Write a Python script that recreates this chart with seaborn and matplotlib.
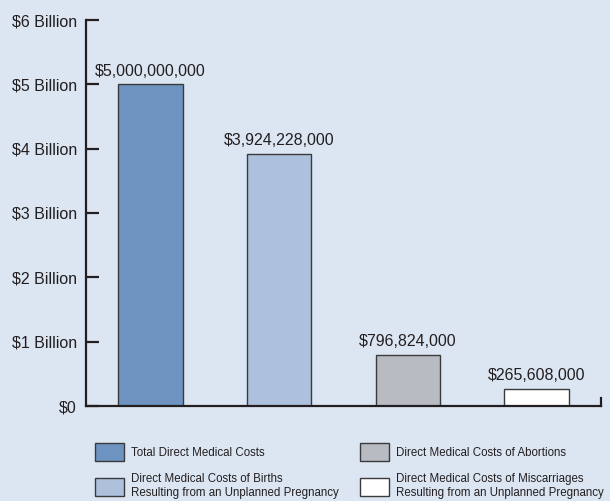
import matplotlib
matplotlib.use("Agg")
import matplotlib.pyplot as plt
import seaborn as sns
import pandas as pd
from matplotlib.patches import Patch
from matplotlib.legend_handler import HandlerPatch

categories = ["Total Direct Medical Costs",
              "Direct Medical Costs of Births\nResulting from an Unplanned Pregnancy",
              "Direct Medical Costs of Abortions",
              "Direct Medical Costs of Miscarriages\nResulting from an Unplanned Pregnancy"]
values = [5000000000, 3924228000, 796824000, 265608000]
value_labels = ["$5,000,000,000", "$3,924,228,000", "$796,824,000", "$265,608,000"]
tick_values = [0, 1e9, 2e9, 3e9, 4e9, 5e9, 6e9]
tick_labels = ["$0", "$1 Billion", "$2 Billion", "$3 Billion", "$4 Billion", "$5 Billion", "$6 Billion"]
colors = ["#6d94c0", "#adc1dd", "#b8bbc2", "#ffffff"]

bg = "#dce6f3"
dark = "#231f20"
edge = "#3a3a3a"

sns.set_style("white")
plt.rcParams["font.family"] = ["Liberation Sans", "DejaVu Sans"]

df = pd.DataFrame({"cat": categories, "val": values})

fig = plt.figure(figsize=(6.10, 5.01), dpi=100, facecolor=bg)
ax = fig.add_axes([86/610, 1-406/501, (601-86)/610, (406-20)/501])
ax.set_facecolor(bg)

sns.barplot(data=df, x="cat", y="val", hue="cat", palette=colors, dodge=False,
            saturation=1, width=0.5, edgecolor=edge, linewidth=1.0,
            legend=False, ax=ax)

for i, (v, lab) in enumerate(zip(values, value_labels)):
    ax.annotate(lab, (i, v), xytext=(0, 4), textcoords="offset points",
                ha="center", va="bottom", fontsize=11.5, color=dark)

ax.set_xlim(-0.5, 3.5)
ax.set_ylim(0, 6e9)
ax.set_yticks(tick_values)
ax.set_yticklabels(tick_labels)
ax.set_xticks([])
ax.set_xlabel("")
ax.set_ylabel("")
ax.tick_params(axis="y", direction="in", length=9.5, width=1.6, pad=6.5,
               labelsize=11.5, colors=dark, left=True)
ax.spines["top"].set_visible(False)
for s in ["left", "bottom", "right"]:
    ax.spines[s].set_visible(True)
    ax.spines[s].set_color(dark)
    ax.spines[s].set_linewidth(1.6)
ax.spines["right"].set_bounds(0, 0.13e9)

handles = [Patch(facecolor=c, edgecolor=edge, linewidth=1.0) for c in colors]
fig.legend(handles, categories, ncol=2, loc="upper left",
           bbox_to_anchor=(95/610, 1-443/501), frameon=False, fontsize=8.3,
           handlelength=2.5, handleheight=2.0, handletextpad=0.6,
           columnspacing=1.9, labelspacing=1.1, borderpad=0,
           borderaxespad=0, labelcolor=dark,
           handler_map={Patch: HandlerPatch(xpad=0, ypad=0)})

fig.savefig("out.png", dpi=100, facecolor=bg)
